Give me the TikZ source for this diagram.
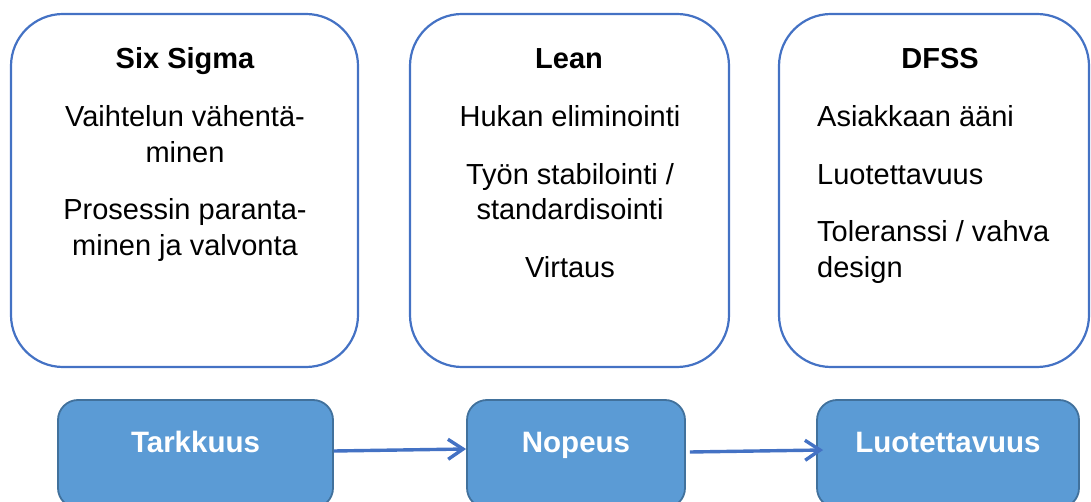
\documentclass[tikz,border=0pt]{standalone}
\usepackage{fontspec}
\setmainfont{Liberation Sans}
\usetikzlibrary{arrows.meta}
\definecolor{rimblue}{HTML}{4472C4}
\definecolor{tilefill}{HTML}{5B9BD5}
\definecolor{tileline}{HTML}{41719C}
\tikzset{
	field/.style={draw=rimblue, line width=2.2pt, rounded corners=52pt, minimum height=353pt},
	head/.style={anchor=base, inner sep=0pt, font=\bfseries\fontsize{29pt}{35.5pt}\selectfont},
	body/.style={anchor=north, inner sep=0pt, font=\fontsize{29pt}{35.5pt}\selectfont},
	tile/.style={draw=tileline, fill=tilefill, line width=1.8pt, rounded corners=20pt, minimum height=108pt,
		text=white, text height=21pt, text depth=25pt, font=\bfseries\fontsize{29.5pt}{34pt}\selectfont},
	flow/.style={draw=rimblue, line width=3.4pt, -{Straight Barb[length=15pt,width=20pt]}}
}
\begin{document}
\begin{tikzpicture}[x=1pt, y=-1pt]
			\useasboundingbox (0, 0) rectangle (1091, 502);
			
			\node[field, minimum width=347pt] (six) at (184.5, 190.5) {};
			\node[field, minimum width=319pt] (lean) at (569.5, 190.5) {};
			\node[field, minimum width=310pt] (dfss) at (934, 190.5) {};
			
			\node[head] (sixH) at (185, 69) {Six Sigma};
			\node[body, align=center] (sixB) at (185, 105.5) {Vaihtelun vähentä-\\minen\\[22pt]Prosessin paranta-\\minen ja valvonta};
			
			\node[head] (leanH) at (569, 69) {Lean};
			\node[body, align=center] (leanB) at (570, 105.5) {Hukan eliminointi\\[22pt]Työn stabilointi /\\standardisointi\\[22pt]Virtaus};
			
			\node[head] (dfssH) at (940, 69) {DFSS};
			\node[body, align=left, anchor=north west] (dfssB) at (817, 105.5) {Asiakkaan ääni\\[22pt]Luotettavuus\\[22pt]Toleranssi / vahva\\design};
			
			\node[tile, minimum width=275pt] (tark) at (195.5, 454) {Tarkkuus};
			\node[tile, minimum width=218pt] (nop) at (576, 454) {Nopeus};
			\node[tile, minimum width=262pt] (luot) at (948, 454) {Luotettavuus};
			
			\draw[flow] ([yshift=3pt]tark.east) -- ([yshift=5pt]nop.west);
			\draw[flow] ([xshift=4pt, yshift=2pt]nop.east) -- ([xshift=7pt, yshift=4pt]luot.west);
		\end{tikzpicture}
\end{document}
